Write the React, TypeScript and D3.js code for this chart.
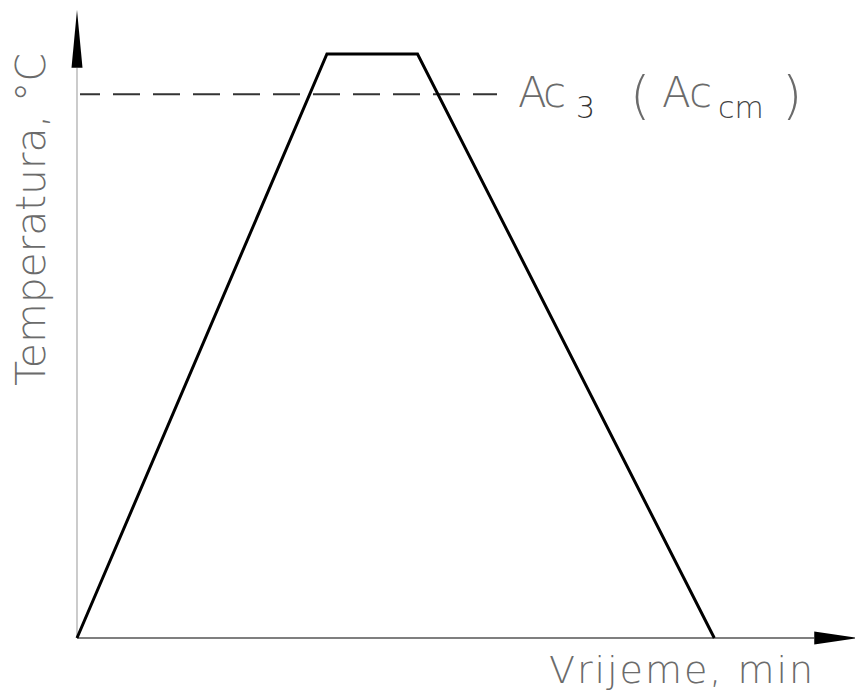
import { useEffect, useRef } from "react";
import * as d3 from "d3";

// heating profile: time (min) vs temperature (°C)
const times = [0, 40, 54.5, 102];
const temps = [0, 930, 930, 0];
const ac3Temp = 866;
const timeMax = 125;
const tempMax = 1000;
const yArrowBase = 908;
const xArrowBase = 118;

const W = 855;
const H = 693;

const App = () => {
  const svgRef = useRef<SVGSVGElement | null>(null);

  useEffect(() => {
    const svg = d3.select(svgRef.current);
    svg.selectAll("*").remove();

    const x = d3.scaleLinear().domain([0, timeMax]).range([77, 858]);
    const y = d3.scaleLinear().domain([0, tempMax]).range([638, 10]);

    const font = "'DejaVu Sans', sans-serif";
    const textColor = "#6b6b6b";

    // y axis
    svg
      .append("line")
      .attr("x1", x(0))
      .attr("x2", x(0))
      .attr("y1", y(0))
      .attr("y2", y(yArrowBase))
      .attr("stroke", "#b0b0b0")
      .attr("stroke-width", 1.3);
    svg
      .append("path")
      .attr(
        "d",
        `M${x(0) - 5.5},${y(yArrowBase)}L${x(0)},${y(tempMax)}L${x(0) + 5.5},${y(yArrowBase)}Z`
      )
      .attr("fill", "#000");

    // x axis
    svg
      .append("line")
      .attr("x1", x(0))
      .attr("x2", x(xArrowBase))
      .attr("y1", y(0))
      .attr("y2", y(0))
      .attr("stroke", "#555")
      .attr("stroke-width", 1.3);
    svg
      .append("path")
      .attr(
        "d",
        `M${x(xArrowBase)},${y(0) - 6.5}L${x(timeMax)},${y(0)}L${x(xArrowBase)},${y(0) + 6.5}Z`
      )
      .attr("fill", "#000");

    // Ac3 dashed line
    svg
      .append("line")
      .attr("x1", x(0) + 3)
      .attr("x2", 497)
      .attr("y1", y(ac3Temp))
      .attr("y2", y(ac3Temp))
      .attr("stroke", "#333")
      .attr("stroke-width", 2)
      .attr("stroke-dasharray", "27,13")
      .attr("stroke-dashoffset", 7);

    // profile
    const line = d3
      .line<number>()
      .x((d, i) => x(times[i]))
      .y((d) => y(d));
    svg
      .append("path")
      .datum(temps)
      .attr("d", line)
      .attr("fill", "none")
      .attr("stroke", "#000")
      .attr("stroke-width", 3)
      .attr("stroke-linejoin", "miter");

    // labels
    const t = (
      tx: number,
      ty: number,
      str: string,
      size: number,
      len?: number,
      color = textColor
    ) => {
      const el = svg
        .append("text")
        .attr("x", tx)
        .attr("y", ty)
        .attr("font-family", font)
        .attr("font-weight", 200)
        .attr("font-size", size)
        .attr("fill", color)
        .text(str);
      if (len) el.attr("textLength", len).attr("lengthAdjust", "spacing");
      return el;
    };

    const by = y(ac3Temp) + 13;
    t(518, by, "Ac", 42, 48);
    t(576, by + 11, "3", 30, undefined, "#333");
    t(630, by + 6, "(", 52);
    t(662, by, "Ac", 42, 50);
    t(718, by + 11, "cm", 30, undefined, "#444");
    t(782, by + 6, ")", 52);

    t(549, 683, "Vrijeme,  min", 38, 264);

    svg
      .append("text")
      .attr("transform", `translate(45,386) rotate(-90)`)
      .attr("font-family", font)
      .attr("font-weight", 200)
      .attr("font-size", 41)
      .attr("fill", textColor)
      .attr("textLength", 333)
      .attr("lengthAdjust", "spacing")
      .text("Temperatura, °C");
  }, []);

  return (
    <svg
      ref={svgRef}
      width={W}
      height={H}
      style={{ position: "absolute", left: 0, top: 0, background: "#fff" }}
    />
  );
};

export default App;
